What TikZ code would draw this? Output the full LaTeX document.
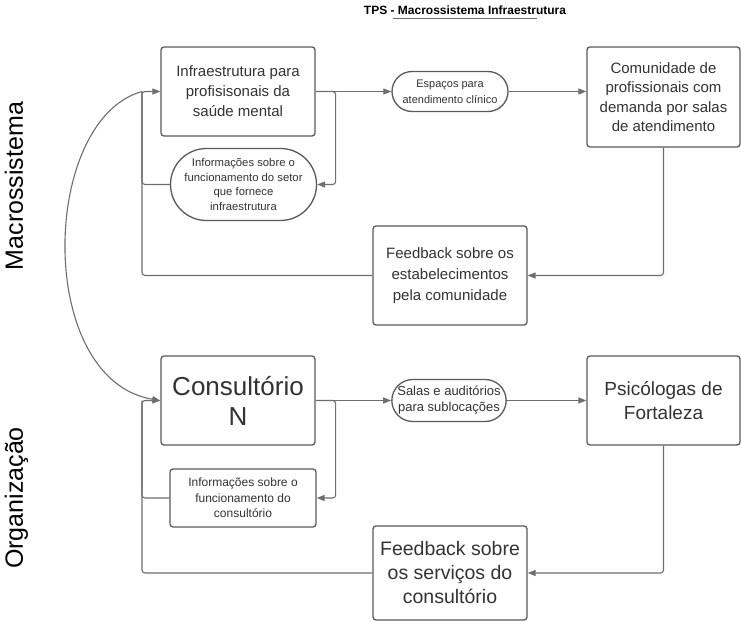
\documentclass[tikz,border=0pt]{standalone}
\usepackage{fontspec}
\setmainfont{Liberation Sans}
\usetikzlibrary{shapes.misc,arrows.meta,calc}
\definecolor{bordgray}{HTML}{5A5A5A}
\definecolor{linegray}{HTML}{6E6E6E}
\definecolor{txtgray}{HTML}{333333}
\tikzset{
  boxnode/.style={draw=bordgray, line width=1.3pt, rounded corners=3pt, align=center, inner sep=0pt, text=txtgray},
  pill/.style={draw=bordgray, line width=1.3pt, rounded rectangle, align=center, inner sep=0pt, text=txtgray},
  conn/.style={draw=linegray, line width=1.1pt, rounded corners=3pt},
  arr/.style={conn, -{Triangle[length=8pt,width=6pt]}},
  fs/.style n args={2}{font=\fontsize{#1}{#2}\selectfont},
}
\begin{document}
\begin{tikzpicture}[x=1pt,y=-1pt]
\useasboundingbox[fill=white] (0,0) rectangle (741,621);

% title
\node[font=\fontsize{12}{14}\selectfont\bfseries, text=black] (title) at (465,10) {TPS - Macrossistema Infraestrutura};
\draw[linegray, line width=0.8pt] (393,18) -- (537,18);

% side labels
\node[rotate=90, anchor=base, fs={25}{29}, text=black] (lmacro) at (23,186) {Macrossistema};
\node[rotate=90, anchor=base, fs={25}{29}, text=black] (lorg) at (23,498) {Organização};

% top row
\node[boxnode, minimum width=154pt, minimum height=89pt, fs={15}{20}] (A) at (238,91.5) {Infraestrutura para\\profisisonais da\\saúde mental};
\node[pill, minimum width=146pt, minimum height=72pt, fs={11.3}{14.5}] (I1) at (243.5,184.5) {Informações sobre o\\funcionamento do setor\\que fornece\\infraestrutura};
\node[pill, minimum width=116pt, minimum height=40pt, fs={11}{16}] (E) at (450,91.5) {Espaços para\\atendimento clínico};
\node[boxnode, minimum width=153pt, minimum height=100pt, fs={15}{19.5}] (B) at (663.5,97) {Comunidade de\\profissionais com\\demanda por salas\\de atendimento};
\node[boxnode, minimum width=154pt, minimum height=99pt, fs={15}{21}] (F1) at (450,275.5) {Feedback sobre os\\estabelecimentos\\pela comunidade};

% bottom row
\node[boxnode, minimum width=154pt, minimum height=89pt, fs={26}{30}] (C) at (238,400.5) {Consultório\\N};
\node[boxnode, minimum width=146pt, minimum height=58pt, fs={12}{15.5}] (I2) at (243,498) {Informações sobre o\\funcionamento do\\consultório};
\node[pill, minimum width=114pt, minimum height=42pt, fs={13}{16}] (S) at (449,400.5) {Salas e auditórios\\para sublocações};
\node[boxnode, minimum width=153pt, minimum height=89pt, fs={19}{24}] (P) at (663.5,400.5) {Psicólogas de\\Fortaleza};
\node[boxnode, minimum width=154pt, minimum height=94pt, fs={19.5}{24}] (F2) at (450,573) {Feedback sobre\\os serviços do\\consultório};

% junction coordinates
\coordinate (j1) at (142,91.5);
\coordinate (j2) at (142,400.5);

% top connectors
\draw[arr] (A.east) -- (A.east -| E.west);
\draw[arr] (A.east) -- ++(20,0) |- (I1.east);
\draw[arr] (I1.west) -| (j1) -- (A.west);
\draw[conn] (F1.west) -| (j1);
\draw[arr] (E.east) -- (E.east -| B.west);
\draw[arr] (B.south) |- (F1.east);

% bottom connectors
\draw[arr] (C.east) -- (C.east -| S.west);
\draw[arr] (C.east) -- ++(20,0) |- (I2.east);
\draw[arr] (I2.west) -| (j2) -- (C.west);
\draw[conn] (F2.west) -| (j2);
\draw[arr] (S.east) -- (S.east -| P.west);
\draw[arr] (P.south) |- (F2.east);

% curved link
\draw[arr, rounded corners=0pt] (j1) .. controls (40,120) and (35,380) .. (C.west);
\end{tikzpicture}
\end{document}
